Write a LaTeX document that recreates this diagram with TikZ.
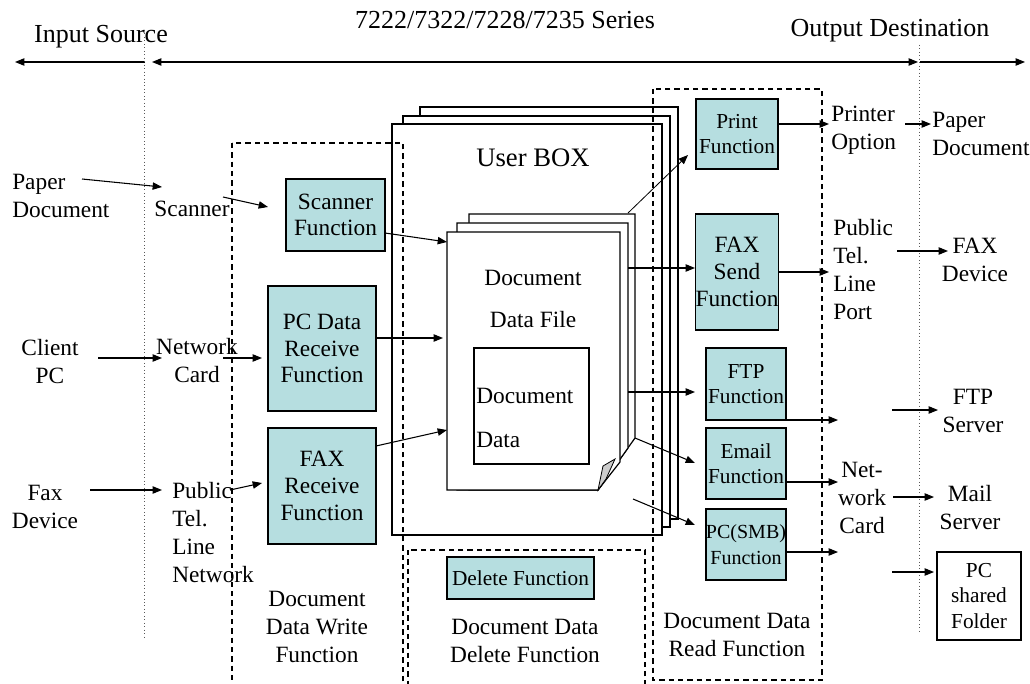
\documentclass[tikz,border=0pt]{standalone}
\usepackage{fontspec}
\setmainfont{Liberation Serif}
\usetikzlibrary{arrows.meta,calc}
\definecolor{boxblue}{RGB}{182,222,224}
\begin{document}
\begin{tikzpicture}[x=0.75pt,y=-0.75pt,
  lbl/.style={inner sep=0, align=center, font=\fontsize{17.5}{21}\selectfont},
  lbll/.style={lbl, align=left, anchor=west},
  hdr/.style={inner sep=0, font=\fontsize{19.5}{23}\selectfont},
  fbox/.style={draw, fill=boxblue, line width=0.9pt, align=center, inner sep=0, font=\fontsize{17.5}{20}\selectfont},
  sbox/.style={fbox, font=\fontsize{16}{19}\selectfont},
  arr/.style={-{Triangle[length=7pt,width=5.5pt]}, line width=0.8pt},
  barr/.style={{Triangle[length=7pt,width=5.5pt]}-{Triangle[length=7pt,width=5.5pt]}, line width=0.8pt},
  dbox/.style={dash pattern=on 4pt off 3pt, line width=0.8pt},
  dotl/.style={dotted, line width=0.6pt, gray!70!black},
  page/.style={draw, fill=white, line width=0.9pt}
]
\useasboundingbox (0,0) rectangle (1030,684);

% headers
\node[hdr] (title) at (505,20) {7222/7322/7228/7235 Series};
\node[hdr] (insrc) at (101,37) {Input Source};
\node[hdr] (outdst) at (890,31) {Output Destination};

\coordinate (la) at (145,62); \coordinate (lb) at (15,62);
\coordinate (ma) at (152,62); \coordinate (mb) at (918,62);
\coordinate (ra) at (920,62); \coordinate (rb) at (1025,62);
\draw[arr] (la) -- (lb);
\draw[barr] (ma) -- (mb);
\draw[arr] (ra) -- (rb);

% dotted separators
\coordinate (d1a) at (144,30); \coordinate (d1b) at (144,640);
\coordinate (d2a) at (919,45); \coordinate (d2b) at (919,633);
\draw[dotl] (d1a) -- (d1b);
\draw[dotl] (d2a) -- (d2b);

% user box pages
\draw[page] (420,107) rectangle (678,519);
\draw[page] (403,116) rectangle (670,527);
\draw[page] (392,124) rectangle (662,535);
\node[hdr, font=\fontsize{20}{24}\selectfont] (ubox) at (533,158) {User BOX};

% dashed function areas
\draw[dbox] (232,143) rectangle (403,700);
\draw[dbox] (408,550) rectangle (645,700);
\draw[dbox] (653,89) rectangle (822,680);

% document data file stack
\draw[page] (469,214) -- (635,214) -- (635,438) -- (598,490) -- (469,490) -- cycle;
\draw[page] (457,223) -- (628,223) -- (628,448) -- (598,490) -- (457,490) -- cycle;
\draw[page] (447,232) -- (620,232) -- (620,462) -- (598,490) -- (447,490) -- cycle;
\draw[fill=gray!40, line width=0.6pt] (598,490) -- (603,466) -- (615,459) -- (606,479) -- cycle;
\node[lbl] (ddf1) at (533,278) {Document};
\node[lbl] (ddf2) at (533,320) {Data File};
\draw[line width=0.9pt] (474,348) rectangle (589,464);
\node[lbll] (dd1) at (476,396) {Document};
\node[lbll] (dd2) at (476,440) {Data};

% write side boxes
\node[fbox, minimum width=74.25pt, minimum height=54pt] (sf) at (335.5,215) {Scanner\\Function};
\node[fbox, minimum width=81pt, minimum height=93.75pt] (pcr) at (322,348.5) {PC Data\\Receive\\Function};
\node[fbox, minimum width=81pt, minimum height=87pt] (fxr) at (322,486) {FAX\\Receive\\Function};

% read side boxes
\node[sbox, minimum width=61.5pt, minimum height=52.5pt] (prf) at (737,134) {Print\\Function};
\node[fbox, minimum width=61.5pt, minimum height=87pt] (fxs) at (737,272) {FAX\\Send\\Function};
\node[sbox, minimum width=60pt, minimum height=54pt] (ftp) at (746,384) {FTP\\Function};
\node[sbox, minimum width=60pt, minimum height=53.25pt] (eml) at (746,463.5) {Email\\Function};
\node[sbox, font=\fontsize{15}{19}\selectfont, minimum width=60pt, minimum height=53.25pt] (smb) at (746,544.5) {PC(SMB)\\Function};
\node[sbox, minimum width=110.25pt, minimum height=31.5pt] (del) at (520.5,578) {Delete Function};
\node[sbox, fill=white, minimum width=63pt, minimum height=66pt] (psf) at (979,596) {PC\\shared\\Folder};

% labels
\node[lbll] (pdoc) at (12,196) {Paper\\Document};
\node[lbl] (scn) at (192,209) {Scanner};
\node[lbl] (cpc) at (50,362) {Client\\PC};
\node[lbl] (ncard) at (197,361) {Network\\Card};
\node[lbl] (fdev) at (45,507) {Fax\\Device};
\node[lbll] (ptln) at (172,533) {Public\\Tel.\\Line\\Network};
\node[lbl] (dwf) at (317,627) {Document\\Data Write\\Function};
\node[lbl] (ddel) at (525,641) {Document Data\\Delete Function};
\node[lbl] (drf) at (737,635) {Document Data\\Read Function};
\node[lbll] (popt) at (831,130) {Printer\\Option};
\node[lbll] (pdoc2) at (932,134) {Paper\\Document};
\node[lbll] (ptlp) at (833,270) {Public\\Tel.\\Line\\Port};
\node[lbl] (fxdev) at (975,260) {FAX\\Device};
\node[lbl] (ftpsv) at (973,411) {FTP\\Server};
\node[lbl] (netc) at (862,498) {Net-\\work\\Card};
\node[lbl] (mailsv) at (970,508) {Mail\\Server};

% input arrows
\coordinate (a1s) at (82,179); \coordinate (a1e) at (162,187);
\draw[arr] (a1s) -- (a1e);
\coordinate (a2s) at (223,197); \coordinate (a2e) at (268,207);
\draw[arr] (a2s) -- (a2e);
\coordinate (a3s) at (98,358); \coordinate (a3e) at (162,358);
\draw[arr] (a3s) -- (a3e);
\coordinate (a4s) at (223,358); \coordinate (a4e) at (262,358);
\draw[arr] (a4s) -- (a4e);
\coordinate (a5s) at (90,490); \coordinate (a5e) at (162,490);
\draw[arr] (a5s) -- (a5e);
\coordinate (a6s) at (230,490); \coordinate (a6e) at (262,483);
\draw[arr] (a6s) -- (a6e);

% into document data file
\coordinate (b1s) at (385,233); \coordinate (b1e) at (447,242);
\draw[arr] (b1s) -- (b1e);
\coordinate (b2s) at (376,338); \coordinate (b2e) at (443,338);
\draw[arr] (b2s) -- (b2e);
\coordinate (b3s) at (376,446); \coordinate (b3e) at (447,430);
\draw[arr] (b3s) -- (b3e);

% out of document data file
\coordinate (c1s) at (628,213); \coordinate (c1e) at (688,155);
\draw[arr, line width=0.6pt] (c1s) -- (c1e);
\coordinate (c2s) at (628,268); \coordinate (c2e) at (695,268);
\draw[arr] (c2s) -- (c2e);
\coordinate (c3s) at (628,392); \coordinate (c3e) at (695,392);
\draw[arr] (c3s) -- (c3e);
\coordinate (c4s) at (635,438); \coordinate (c4e) at (695,463);
\draw[arr] (c4s) -- (c4e);
\coordinate (c5s) at (633,499); \coordinate (c5e) at (695,525);
\draw[arr] (c5s) -- (c5e);

% output arrows
\coordinate (d1s) at (778,124); \coordinate (d1e) at (829,124);
\draw[arr] (d1s) -- (d1e);
\coordinate (d2s) at (905,124); \coordinate (d2e) at (931,124);
\draw[arr] (d2s) -- (d2e);
\coordinate (d3s) at (778,272); \coordinate (d3e) at (829,272);
\draw[arr] (d3s) -- (d3e);
\coordinate (d4s) at (897,251); \coordinate (d4e) at (948,251);
\draw[arr] (d4s) -- (d4e);
\coordinate (d5s) at (786,420); \coordinate (d5e) at (838,420);
\draw[arr] (d5s) -- (d5e);
\coordinate (d6s) at (892,410); \coordinate (d6e) at (938,410);
\draw[arr] (d6s) -- (d6e);
\coordinate (d7s) at (786,482); \coordinate (d7e) at (838,482);
\draw[arr] (d7s) -- (d7e);
\coordinate (d8s) at (893,497); \coordinate (d8e) at (934,497);
\draw[arr] (d8s) -- (d8e);
\coordinate (d9s) at (786,552); \coordinate (d9e) at (838,552);
\draw[arr] (d9s) -- (d9e);
\coordinate (d10s) at (892,572); \coordinate (d10e) at (934,572);
\draw[arr] (d10s) -- (d10e);
\end{tikzpicture}
\end{document}
